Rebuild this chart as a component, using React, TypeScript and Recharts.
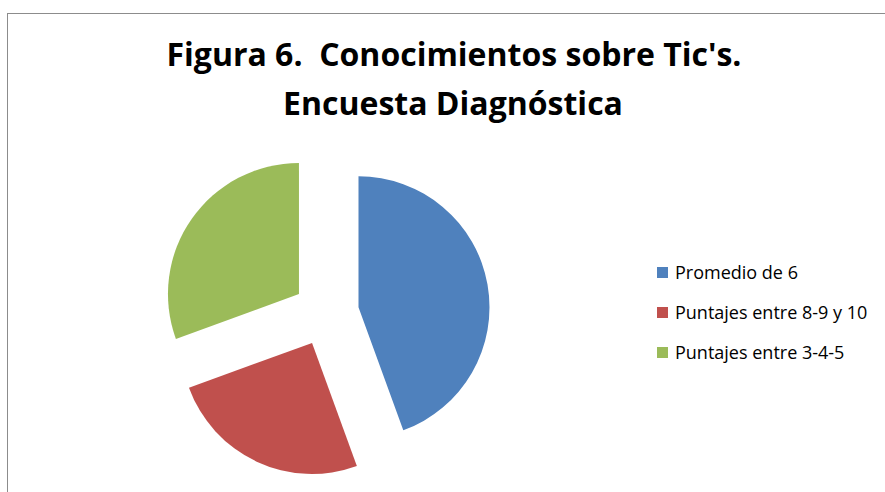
import { PieChart, Pie, Cell, Sector, Legend } from "recharts";

const categories = ["Promedio de 6", "Puntajes entre 8-9 y 10", "Puntajes entre 3-4-5"];
const values = [16, 9, 11];
const colors = ["#4F81BD", "#C0504D", "#9BBB59"];
const titleLines = ["Figura 6.\u00a0 Conocimientos sobre Tic's.", "Encuesta Diagnóstica"];

const data = categories.map((name, i) => ({ name, value: values[i] }));

const RADIAN = Math.PI / 180;
const EXPLODE = 33;

// pushes every slice out along its own bisector
const ExplodedSlice = (props: any) => {
  const { cx, cy, midAngle } = props;
  const dx = EXPLODE * Math.cos(-midAngle * RADIAN);
  const dy = EXPLODE * Math.sin(-midAngle * RADIAN);
  return <Sector {...props} cx={cx + dx} cy={cy + dy} stroke="none" />;
};

const LegendList = () => (
  <div style={{ fontFamily: "'Open Sans', sans-serif", fontSize: 18, color: "#000" }}>
    {categories.map((c, i) => (
      <div key={c} style={{ display: "flex", alignItems: "center", height: 40 }}>
        <span style={{ width: 11, height: 11, background: colors[i], marginRight: 7, display: "inline-block" }} />
        <span>{c}</span>
      </div>
    ))}
  </div>
);

export default function App() {
  return (
    <div style={{ position: "absolute", left: 0, top: 0, width: 885, height: 492, background: "#fff" }}>
      <div
        style={{
          position: "absolute",
          left: 7,
          top: 13,
          width: 890,
          height: 490,
          border: "1.5px solid #8c8c8c",
          boxSizing: "border-box",
        }}
      />
      <PieChart width={885} height={492} style={{ position: "absolute", left: 0, top: 0 }}>
        <text
          x={454}
          textAnchor="middle"
          fontFamily="'Open Sans', sans-serif"
          fontWeight={700}
          fontSize={32}
          fill="#000"
        >
          <tspan x={454} y={66}>{titleLines[0]}</tspan>
          <tspan x={453} y={115}>{titleLines[1]}</tspan>
        </text>
        <Pie
          data={data}
          dataKey="value"
          nameKey="name"
          cx={321}
          cy={308}
          outerRadius={131}
          startAngle={90}
          endAngle={-270}
          isAnimationActive={false}
          shape={ExplodedSlice}
          stroke="none"
        >
          {data.map((d, i) => (
            <Cell key={d.name} fill={colors[i]} />
          ))}
        </Pie>
        <Legend
          content={<LegendList />}
          wrapperStyle={{ position: "absolute", left: 657, top: 252, width: 228 }}
        />
      </PieChart>
    </div>
  );
}
